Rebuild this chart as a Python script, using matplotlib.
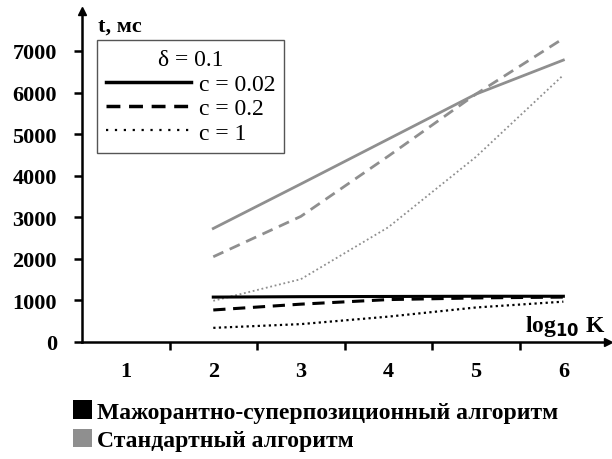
import matplotlib.pyplot as plt
from matplotlib.lines import Line2D
from matplotlib.patches import Patch

plt.rcParams['font.family'] = ['Liberation Serif', 'DejaVu Serif']

log_k = [2, 3, 4, 5, 6]
tick_labels = ['1', '2', '3', '4', '5', '6']

# majorant-superposition algorithm (black)
major_c002 = [1080, 1090, 1095, 1100, 1100]
major_c02 = [770, 910, 1020, 1060, 1080]
major_c1 = [340, 430, 610, 830, 970]

# standard algorithm (gray)
std_c002 = [2730, 3800, 4880, 5960, 6780]
std_c02 = [2050, 3020, 4470, 5960, 7300]
std_c1 = [990, 1510, 2760, 4450, 6420]

gray = '#8f8f8f'

fig = plt.figure(figsize=(6.12, 4.6), dpi=100)
ax = fig.add_axes([82 / 612, 117 / 460, 526 / 612, 331 / 460])

ax.plot(log_k, std_c002, color=gray, lw=2, ls='-')
ax.plot(log_k, std_c02, color=gray, lw=2, ls=(0, (4, 2.5)))
ax.plot(log_k, std_c1, color=gray, lw=1.3, ls=(0, (1, 1.5)))
ax.plot(log_k, major_c002, color='black', lw=2.2, ls='-')
ax.plot(log_k, major_c02, color='black', lw=2.2, ls=(0, (4, 2.5)))
ax.plot(log_k, major_c1, color='black', lw=1.6, ls=(0, (1, 1.5)))

ax.set_xlim(0.5, 6.51)
ax.set_ylim(0, 7960)
ax.set_yticks([0, 1000, 2000, 3000, 4000, 5000, 6000, 7000])
ax.set_xticks([1.5, 2.5, 3.5, 4.5, 5.5])
ax.set_xticklabels([])
for i, lab in enumerate(tick_labels):
    ax.text(i + 1, -700, lab, ha='center', va='center', fontsize=16, fontweight='bold')

for s in ['top', 'right']:
    ax.spines[s].set_visible(False)
for s in ['left', 'bottom']:
    ax.spines[s].set_linewidth(1.8)
ax.tick_params(axis='y', length=6, width=1.8, labelsize=16, pad=12)
ax.tick_params(axis='x', length=6, width=1.8)
for t in ax.get_yticklabels():
    t.set_fontweight('bold')

# axis arrows
ax.plot(1, 0, '>k', markersize=6, transform=ax.transAxes, clip_on=False)
ax.plot(0, 1, '^k', markersize=6, transform=ax.transAxes, clip_on=False)

ax.text(0.03, 0.955, 't, мс', transform=ax.transAxes, fontsize=16, fontweight='bold', va='center')
ax.text(0.995, 0.05, r'log$_{\mathbf{10}}$ K', transform=ax.transAxes, fontsize=17, fontweight='bold',
        ha='right', va='center')

handles = [Line2D([], [], color='black', lw=2.5, ls='-'),
           Line2D([], [], color='black', lw=2.5, ls=(0, (4, 2.5))),
           Line2D([], [], color='black', lw=1.6, ls=(0, (1, 3)))]
leg = ax.legend(handles, ['c = 0.02', 'c = 0.2', 'c = 1'], title='δ = 0.1',
                loc='upper left', bbox_to_anchor=(97 / 612, 1 - 41 / 460), bbox_transform=fig.transFigure,
                borderaxespad=0, fontsize=17, title_fontsize=17, handlelength=3.6, handletextpad=0.3,
                labelspacing=0.12, borderpad=0.4, fancybox=False, framealpha=1)
leg.get_frame().set_edgecolor('#555555')
leg.get_frame().set_linewidth(1)

alg_handles = [Patch(facecolor='black'), Patch(facecolor=gray)]
fig.legend(alg_handles, ['Мажорантно-суперпозиционный алгоритм', 'Стандартный алгоритм'],
           loc='upper left', bbox_to_anchor=(64 / 612, 1 - 392 / 460), frameon=False,
           borderaxespad=0, prop={'size': 17, 'weight': 'bold'}, handlelength=0.8, handleheight=0.8,
           handletextpad=0.2, labelspacing=0.25)

fig.savefig('out.png', dpi=100)
